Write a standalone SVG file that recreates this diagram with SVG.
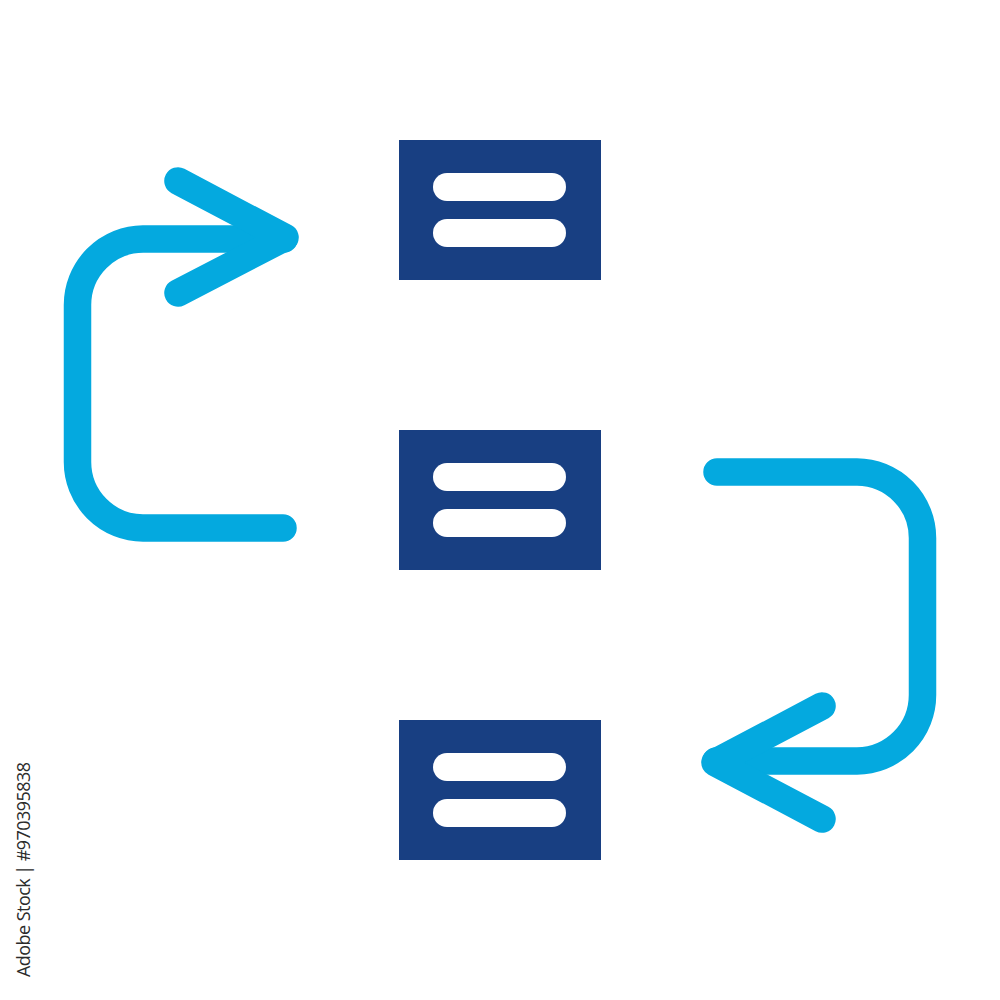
<svg xmlns="http://www.w3.org/2000/svg" width="1000" height="1000" viewBox="0 0 1000 1000">
  <style>
    .doc { fill: #183F82; }
    .bar { stroke: #FFFFFF; stroke-width: 28; stroke-linecap: round; fill: none; }
    .flow { stroke: #04A9DF; stroke-width: 27.5; stroke-linecap: round; stroke-linejoin: round; fill: none; }
    .credit { font-family: "Open Sans", "Liberation Sans", sans-serif; font-size: 18px; fill: #2B2B2B; }
  </style>
  <rect width="1000" height="1000" fill="#FFFFFF"/>
  <g id="connectors">
    <g id="arrow-left">
      <path class="flow" d="M 283 528 H 143 A 66 66 0 0 1 77.5 462 V 305 A 66 66 0 0 1 143 239 H 284"/>
      <polyline class="flow" points="178,181 285,237.5 178,293"/>
    </g>
    <g id="arrow-right">
      <path class="flow" d="M 717 472 H 857 A 66 66 0 0 1 922.5 538 V 695 A 66 66 0 0 1 857 761 H 716"/>
      <polyline class="flow" points="822,706 715,762.5 822,819"/>
    </g>
  </g>
  <g id="node-1">
    <rect class="doc" x="399" y="140" width="202" height="140"/>
    <line class="bar" x1="447" y1="187" x2="552" y2="187"/>
    <line class="bar" x1="447" y1="233" x2="552" y2="233"/>
  </g>
  <g id="node-2">
    <rect class="doc" x="399" y="430" width="202" height="140"/>
    <line class="bar" x1="447" y1="477" x2="552" y2="477"/>
    <line class="bar" x1="447" y1="523" x2="552" y2="523"/>
  </g>
  <g id="node-3">
    <rect class="doc" x="399" y="720" width="202" height="140"/>
    <line class="bar" x1="447" y1="767" x2="552" y2="767"/>
    <line class="bar" x1="447" y1="813" x2="552" y2="813"/>
  </g>
  <text class="credit" transform="translate(30,762) rotate(-90)" text-anchor="end" textLength="215" lengthAdjust="spacing">Adobe Stock | #970395838</text>
</svg>
